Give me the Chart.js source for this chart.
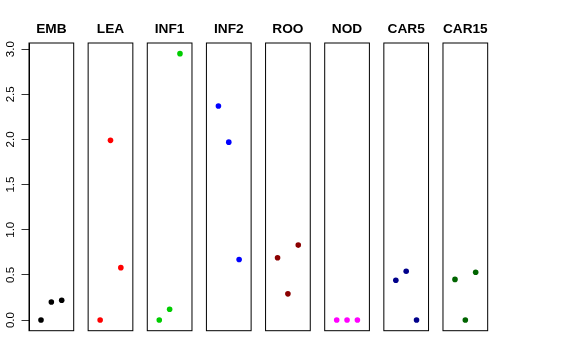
<!DOCTYPE html>
<html>
<head>
<meta charset="utf-8">
<script src="https://cdn.jsdelivr.net/npm/chart.js@4/dist/chart.umd.min.js"></script>
<style>
  html, body { margin: 0; padding: 0; background: #fff; }
  #wrap { position: relative; width: 576px; height: 360px; }
  #wrap canvas { position: absolute; left: 0; top: 0; }
</style>
</head>
<body>
<div id="wrap"></div>
<script>
// ---- data ----
const categories = ['EMB', 'LEA', 'INF1', 'INF2', 'ROO', 'NOD', 'CAR5', 'CAR15'];
const samplePositions = [1, 2, 3];
const EMB   = [0.00, 0.20, 0.22];
const LEA   = [0.00, 1.99, 0.58];
const INF1  = [0.00, 0.12, 2.95];
const INF2  = [2.37, 1.97, 0.67];
const ROO   = [0.69, 0.29, 0.83];
const NOD   = [0.00, 0.00, 0.00];
const CAR5  = [0.44, 0.54, 0.00];
const CAR15 = [0.45, 0.00, 0.53];
const seriesValues = [EMB, LEA, INF1, INF2, ROO, NOD, CAR5, CAR15];
const seriesColors = ['#000000', '#FF0000', '#00CD00', '#0000FF', '#8B0000', '#FF00FF', '#00008B', '#006400'];
const yTicks = [0, 0.5, 1, 1.5, 2, 2.5, 3];
const yTickLabels = ['0.0', '0.5', '1.0', '1.5', '2.0', '2.5', '3.0'];

// ---- layout ----
const W = 576, H = 360;
const panelLeft0 = 29, panelStride = 59.14, panelWidth = 44.7;
const plotTop = 43, plotBottom = 330.7;
const yAxisWidth = 29;

const boxPlugin = {
  id: 'panelBox',
  afterDraw(chart) {
    const a = chart.chartArea;
    const ctx = chart.ctx;
    ctx.save();
    ctx.strokeStyle = '#000';
    ctx.lineWidth = 1;
    ctx.strokeRect(a.left, a.top, a.right - a.left, a.bottom - a.top);
    ctx.restore();
  }
};

const wrap = document.getElementById('wrap');
categories.forEach((cat, i) => {
  const cv = document.createElement('canvas');
  cv.width = W; cv.height = H;
  cv.style.width = W + 'px'; cv.style.height = H + 'px';
  wrap.appendChild(cv);
  const left = panelLeft0 + i * panelStride;
  const isFirst = i === 0;
  const titleSize = 13.7;
  const titleLine = titleSize * 1.2;
  const padTop = 29.5 - titleLine / 2;
  new Chart(cv.getContext('2d'), {
    type: 'scatter',
    data: {
      datasets: [{
        label: cat,
        data: samplePositions.map((x, j) => ({ x: x, y: seriesValues[i][j] })),
        backgroundColor: seriesColors[i],
        borderWidth: 0,
        pointRadius: 2.8,
        pointHoverRadius: 2.8
      }]
    },
    options: {
      responsive: false,
      animation: false,
      devicePixelRatio: 1,
      layout: {
        padding: {
          left: isFirst ? 0 : left,
          right: W - (left + panelWidth),
          top: 0,
          bottom: H - plotBottom
        }
      },
      plugins: {
        legend: { display: false },
        tooltip: { enabled: false },
        title: {
          display: true,
          text: cat,
          fullSize: false,
          color: '#000',
          font: { family: "'Liberation Sans', Arial, sans-serif", size: titleSize, weight: 'bold', lineHeight: 1.2 },
          padding: { top: padTop, bottom: plotTop - padTop - titleLine }
        }
      },
      scales: {
        x: {
          type: 'linear',
          display: false,
          min: -0.16,
          max: 4.16
        },
        y: {
          type: 'linear',
          display: isFirst,
          min: -0.118,
          max: 3.068,
          afterFit(scale) { if (isFirst) scale.width = yAxisWidth; },
          afterBuildTicks(scale) { scale.ticks = yTicks.map(v => ({ value: v })); },
          grid: {
            drawOnChartArea: false,
            drawTicks: true,
            tickLength: 7.5,
            color: '#333',
            lineWidth: 1
          },
          border: { display: true, color: '#000', width: 1 },
          ticks: {
            minRotation: 90,
            maxRotation: 90,
            crossAlign: 'center',
            padding: 2.5,
            color: '#000',
            font: { family: "'Liberation Sans', Arial, sans-serif", size: 11.5 },
            callback: (v) => { const k = yTicks.indexOf(v); return k >= 0 ? yTickLabels[k] : ''; }
          }
        }
      }
    },
    plugins: [boxPlugin]
  });
});
</script>
</body>
</html>
